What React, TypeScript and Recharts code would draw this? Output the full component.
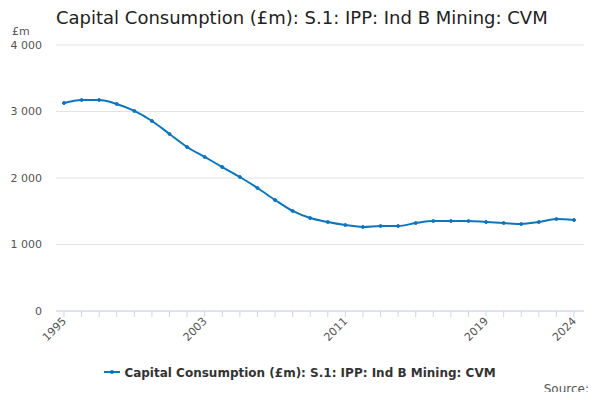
import { LineChart, Line, XAxis, YAxis, CartesianGrid } from 'recharts';

const years = [
  '1995', '1996', '1997', '1998', '1999', '2000', '2001', '2002', '2003', '2004',
  '2005', '2006', '2007', '2008', '2009', '2010', '2011', '2012', '2013', '2014',
  '2015', '2016', '2017', '2018', '2019', '2020', '2021', '2022', '2023', '2024',
];
const values = [
  3128, 3173, 3173, 3113, 3008, 2857, 2662, 2466, 2316, 2165,
  2015, 1850, 1669, 1504, 1398, 1338, 1293, 1263, 1278, 1278,
  1323, 1353, 1353, 1353, 1338, 1323, 1308, 1338, 1383, 1368,
];
const xTicks = ['1995', '2003', '2011', '2019', '2024'];
const yTicks = [0, 1000, 2000, 3000, 4000];
const seriesName = 'Capital Consumption (£m): S.1: IPP: Ind B Mining: CVM';

const data = years.map((year, i) => ({ year, value: values[i] }));
const font = '"DejaVu Sans", "Open Sans", sans-serif';

const XTick = (props: any) => {
  const { x, y, payload } = props;
  if (!xTicks.includes(payload.value)) return null;
  return (
    <text x={x} y={y} dy={4} textAnchor="end" fill="#555" fontSize={11} fontFamily={font}
      transform={`rotate(-45, ${x}, ${y})`}>
      {payload.value}
    </text>
  );
};

export default function App() {
  return (
    <div style={{ position: 'relative', width: 600, height: 400, margin: -8, fontFamily: font, background: '#fff' }}>
      <div style={{ position: 'absolute', left: 56, top: 7, fontSize: 18, color: '#222' }}>
        Capital Consumption (£m): S.1: IPP: Ind B Mining: CVM
      </div>
      <div style={{ position: 'absolute', left: 12, top: 25, fontSize: 11, color: '#555' }}>£m</div>
      <LineChart width={600} height={400} data={data} margin={{ top: 45, right: 16, bottom: 0, left: 6 }}>
        <CartesianGrid vertical={false} stroke="#e3e3e3" />
        <XAxis
          dataKey="year"
          interval={0}
          tick={<XTick />}
          tickLine={{ stroke: '#ccd6eb' }}
          tickSize={6}
          axisLine={{ stroke: '#ccd6eb' }}
          padding={{ left: 8, right: 10 }}
          height={89}
        />
        <YAxis
          domain={[0, 4000]}
          ticks={yTicks}
          width={50}
          axisLine={false}
          tickLine={false}
          tickMargin={8}
          tick={{ fill: '#555', fontSize: 11, fontFamily: font }}
          tickFormatter={(v: number) => (v >= 1000 ? `${Math.floor(v / 1000)} ${String(v % 1000).padStart(3, '0')}` : `${v}`)}
        />
        <Line
          type="monotone"
          dataKey="value"
          stroke="#0b76c0"
          strokeWidth={2}
          dot={{ r: 1.5, fill: '#0b76c0', stroke: '#0b76c0', strokeWidth: 1 }}
          isAnimationActive={false}
        />
      </LineChart>
      <div style={{ position: 'absolute', left: 0, width: 600, top: 366, textAlign: 'center', fontSize: 12, fontWeight: 'bold', color: '#333' }}>
        <svg width={16} height={10} style={{ marginRight: 4 }}>
          <line x1={0} y1={5} x2={16} y2={5} stroke="#0b76c0" strokeWidth={2} />
          <circle cx={8} cy={5} r={2} fill="#0b76c0" />
        </svg>
        {seriesName}
      </div>
      <div style={{ position: 'absolute', right: 11, top: 382, fontSize: 12, color: '#555' }}>Source:</div>
    </div>
  );
}
